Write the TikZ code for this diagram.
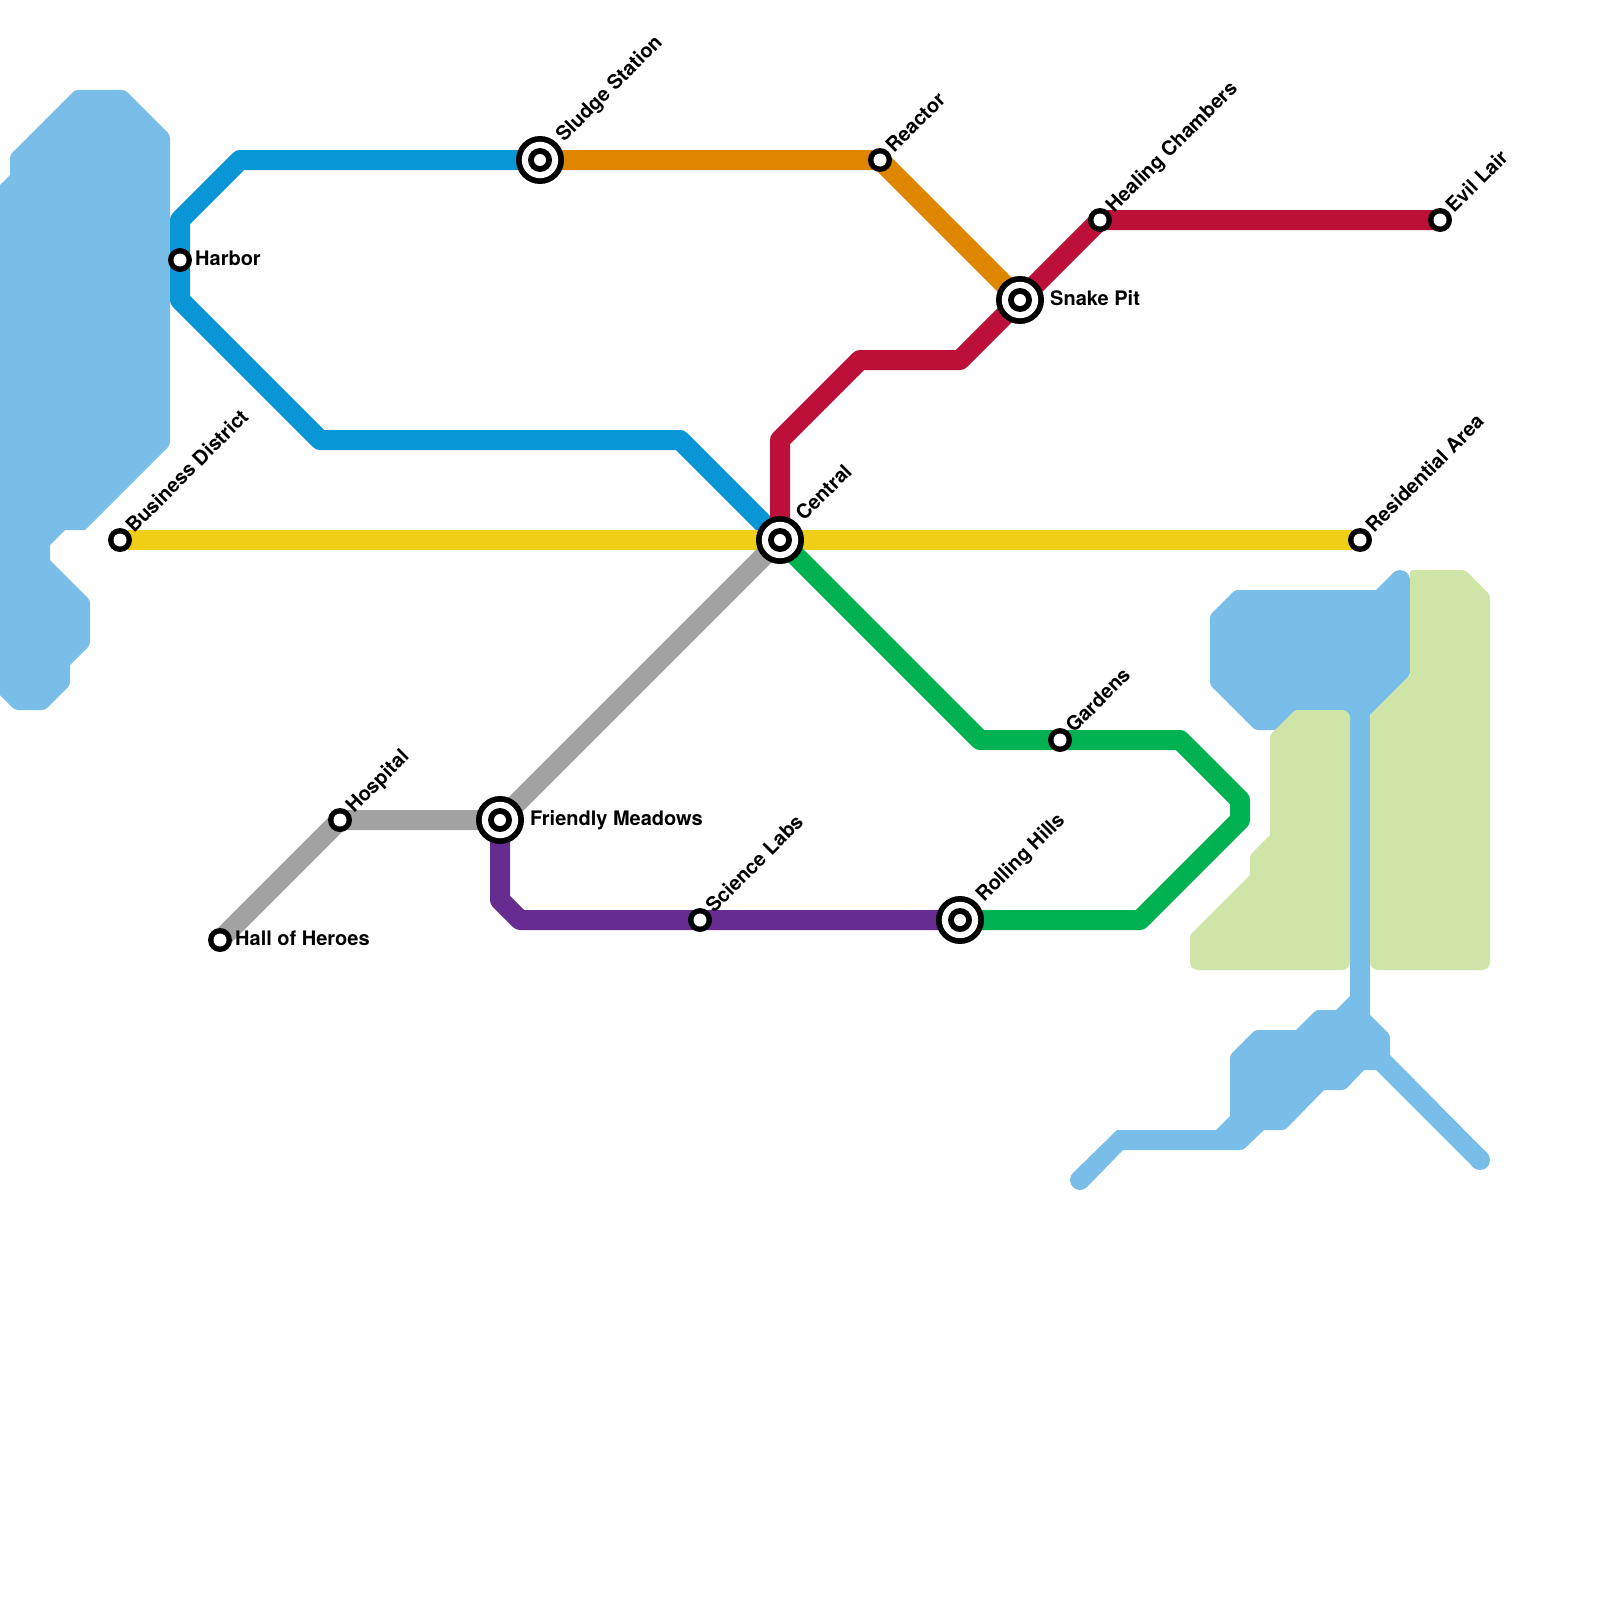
\documentclass[tikz,border=0pt]{standalone}
\usepackage{fontspec}
\setmainfont{TeX Gyre Heros}
\pgfdeclarelayer{bg}
\pgfdeclarelayer{lines}
\pgfsetlayers{bg,lines,main}
\definecolor{water}{HTML}{79BDE9}
\definecolor{park}{HTML}{CFE4A7}
\definecolor{lblue}{HTML}{0896D7}
\definecolor{lorange}{HTML}{DF8600}
\definecolor{lred}{HTML}{BD1038}
\definecolor{lyellow}{HTML}{F0CE15}
\definecolor{lgray}{HTML}{A2A2A2}
\definecolor{lpurple}{HTML}{662C90}
\definecolor{lgreen}{HTML}{00B251}
\tikzset{
  anchorpt/.style={circle,inner sep=0pt,outer sep=0pt,minimum size=1pt},
  lbl/.style={font=\fontsize{20}{24}\selectfont\bfseries,anchor=base west,inner sep=0pt,text=black},
  dlbl/.style={lbl,rotate=45},
  route/.style={line width=20pt,line join=round},
  sc/.style={sharp corners},
  rc/.style={rounded corners=3pt},
  rb/.style={rounded corners=8pt},
}
\newcommand{\stopat}[3]{\node[anchorpt] (#1) at (#2,#3) {};
  \fill[black] (#1.center) circle[radius=12pt];
  \fill[white] (#1.center) circle[radius=6.5pt];}
\newcommand{\hubat}[3]{\node[anchorpt] (#1) at (#2,#3) {};
  \fill[black] (#1.center) circle[radius=24pt];
  \fill[white] (#1.center) circle[radius=18.2pt];
  \fill[black] (#1.center) circle[radius=12pt];
  \fill[white] (#1.center) circle[radius=6pt];}
\begin{document}
\begin{tikzpicture}[x=1pt,y=-1pt]
\useasboundingbox (0,0) rectangle (1600,1600);
% stations
\hubat{sludge}{540}{160}
\stopat{reactor}{880}{160}
\hubat{snake}{1020}{300}
\stopat{healing}{1100}{220}
\stopat{evil}{1440}{220}
\stopat{resid}{1360}{540}
\hubat{central}{780}{540}
\stopat{business}{120}{540}
\stopat{harbor}{180}{260}
\hubat{friendly}{500}{820}
\stopat{hospital}{340}{820}
\stopat{heroes}{220}{940}
\stopat{science}{700}{920}
\hubat{rolling}{960}{920}
\stopat{gardens}{1060}{740}
% labels
\node[dlbl] (t1) at (564,143) {Sludge Station};
\node[dlbl] (t2) at (894,154) {Reactor};
\node[lbl] (t3) at (1050,305) {Snake Pit};
\node[dlbl] (t4) at (1114,214) {Healing Chambers};
\node[dlbl] (t5) at (1454,214) {Evil Lair};
\node[dlbl] (t6) at (1374,534) {Residential Area};
\node[dlbl] (t7) at (804,522) {Central};
\node[dlbl] (t8) at (134,534) {Business District};
\node[lbl] (t9) at (195,265) {Harbor};
\node[lbl] (t10) at (530,825) {Friendly Meadows};
\node[dlbl] (t11) at (354,814) {Hospital};
\node[lbl] (t12) at (235,945) {Hall of Heroes};
\node[dlbl] (t13) at (714,914) {Science Labs};
\node[dlbl] (t14) at (984,903) {Rolling Hills};
\node[dlbl] (t15) at (1074,734) {Gardens};
% routes
\begin{pgfonlayer}{lines}
\draw[route,lblue] (sludge.center) -- (240,160) -- (180,220) -- (harbor.center) -- (180,300) -- (320,440) -- (680,440) -- (central.center);
\draw[route,lorange] (sludge.center) -- (reactor.center) -- (snake.center);
\draw[route,lred] (central.center) -- (780,440) -- (860,360) -- (960,360) -- (snake.center) -- (healing.center) -- (evil.center);
\draw[route,lyellow] (business.center) -- (central.center) -- (resid.center);
\draw[route,lgray] (central.center) -- (friendly.center) -- (hospital.center) -- (heroes.center);
\draw[route,lpurple] (friendly.center) -- (500,900) -- (520,920) -- (science.center) -- (rolling.center);
\draw[route,lgreen] (central.center) -- (980,740) -- (gardens.center) -- (1180,740) -- (1240,800) -- (1240,820) -- (1140,920) -- (rolling.center);
\end{pgfonlayer}
% water and parks
\begin{pgfonlayer}{bg}
\fill[water] (170,300) [rc] -- (170,445) [sc] -- (85,530) -- (65,530) -- (50,545) -- (50,560) [rc] -- (90,600) -- (90,645) [sc] -- (70,665) [rc] -- (70,685) -- (45,710) -- (15,710) [sc] -- (-10,685) -- (-10,195) -- (10,175) [rc] -- (10,155) -- (75,90) -- (125,90) -- (170,135) [sc] -- cycle;
\fill[water] (1080,1180) circle[radius=10pt] (1480,1160) circle[radius=10pt] (1400,580) circle[radius=10pt];
\fill[water] (1280,590) [sc] -- (1376,590) -- (1393,573) -- (1410,580) [rc] -- (1410,675) [sc] -- (1370,715) -- (1370,1015) [rc] -- (1390,1035) [sc] -- (1390,1055) -- (1487,1153) -- (1473,1167) -- (1376,1070) -- (1364,1070) [rc] -- (1345,1090) [sc] -- (1324,1090) [rc] -- (1285,1130) [sc] -- (1264,1130) [rc] -- (1243,1150) [sc] -- (1123,1150) -- (1087,1187) -- (1073,1173) -- (1117,1130) [sc] -- (1216,1130) -- (1230,1116) [rc] -- (1230,1055) -- (1255,1030) [sc] -- (1296,1030) [rc] -- (1316,1010) [sc] -- (1336,1010) -- (1350,996) -- (1350,730) [rc] -- (1255,730) -- (1210,685) -- (1210,615) -- (1235,590) [sc] -- cycle;
\fill[park] (1270,970) [rb] -- (1190,970) [rc] -- (1190,935) [sc] -- (1250,875) [rc] -- (1250,855) [sc] -- (1270,835) [rc] -- (1270,735) -- (1295,710) [rb] -- (1350,710) -- (1350,970) [sc] -- cycle;
\fill[park] (1430,970) [rb] -- (1370,970) [rc] -- (1370,715) [sc] -- (1410,675) [rc] -- (1410,570) -- (1465,570) -- (1490,595) [rb] -- (1490,970) [sc] -- cycle;
\end{pgfonlayer}
\end{tikzpicture}
\end{document}
